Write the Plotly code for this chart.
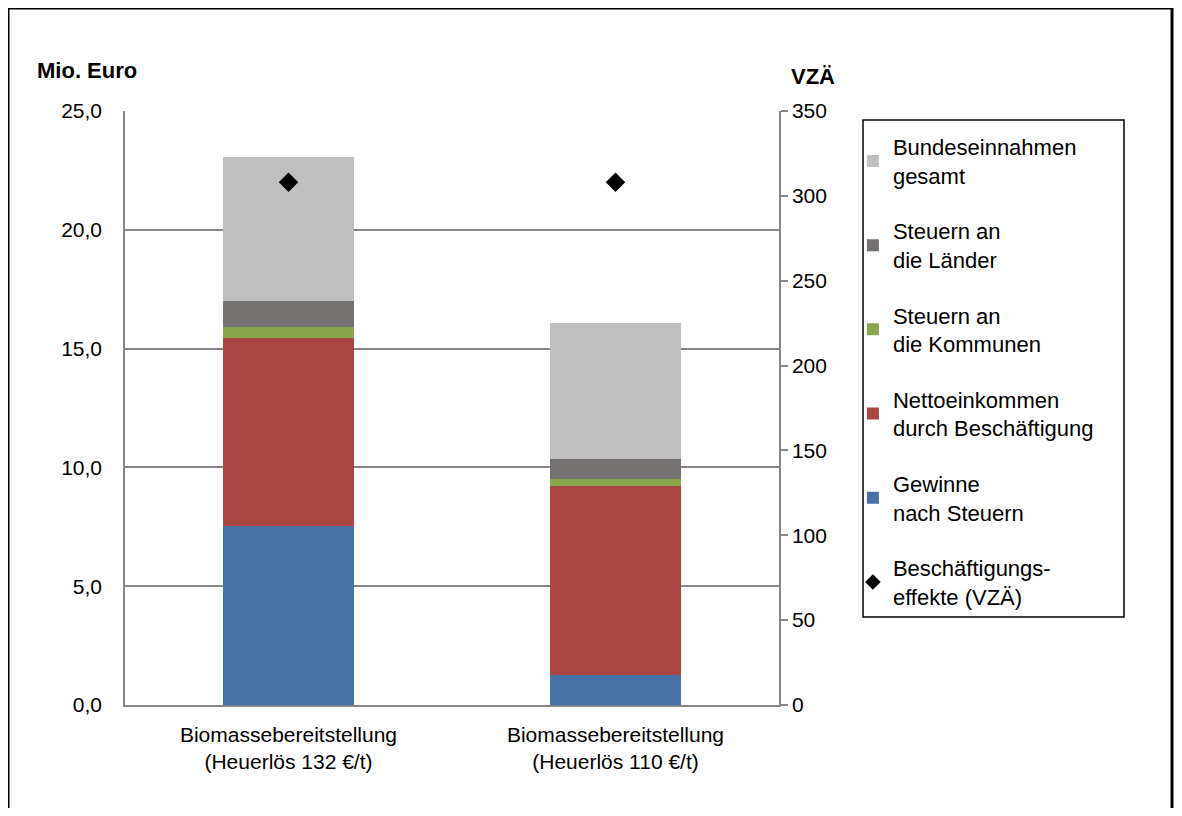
import plotly.graph_objects as go

# categories and values (Mio. Euro, stacked) + employment effects (VZÄ)
kategorien = ["Biomassebereitstellung<br>(Heuerlös 132 €/t)",
              "Biomassebereitstellung<br>(Heuerlös 110 €/t)"]
gewinne = [7.53, 1.26]
nettoeinkommen = [7.93, 7.96]
steuern_kommunen = [0.45, 0.29]
steuern_laender = [1.09, 0.83]
bundeseinnahmen = [6.05, 5.74]
vzae = [308, 308]

links_ticks = [0, 5, 10, 15, 20, 25]
rechts_ticks = [0, 50, 100, 150, 200, 250, 300, 350]

schrift = "Liberation Sans, Arial, sans-serif"
grau = "#878787"

fig = go.Figure()

stapel = [
    ("Gewinne<br>nach Steuern", gewinne, "#4672A8", 5),
    ("Nettoeinkommen<br>durch Beschäftigung", nettoeinkommen, "#AA4644", 4),
    ("Steuern an<br>die Kommunen", steuern_kommunen, "#89A54E", 3),
    ("Steuern an<br>die Länder", steuern_laender, "#767171", 2),
    ("Bundeseinnahmen<br>gesamt", bundeseinnahmen, "#BFBFBF", 1),
]
for name, werte, farbe, rang in stapel:
    fig.add_trace(go.Bar(
        x=kategorien, y=werte, name=name,
        marker=dict(color=farbe, line=dict(width=0)),
        width=0.4, legendrank=rang, legendgroup=name,
    ))

fig.add_trace(go.Scatter(
    x=kategorien, y=vzae, yaxis="y2", mode="markers",
    name="Beschäftigungs-<br>effekte (VZÄ)",
    marker=dict(symbol="diamond", size=15, color="black"),
    legendrank=6, legendgroup="vzae",
))

# page body has an 8px margin, so the figure is 16px smaller than the window
fig.update_layout(
    barmode="stack",
    width=1166, height=800,
    margin=dict(l=117, r=395, t=103, b=103),
    paper_bgcolor="white", plot_bgcolor="white",
    separators=",.",
    font=dict(family=schrift, size=21, color="black"),
    showlegend=True,
    legend=dict(
        x=1.113, y=0.975, xanchor="left", yanchor="top",
        font=dict(size=22), bgcolor="rgba(0,0,0,0)", borderwidth=0,
        tracegroupgap=24, itemsizing="constant",
    ),
    xaxis=dict(
        showline=True, linecolor=grau, linewidth=1.5,
        ticks="outside", ticklen=10, tickcolor="rgba(0,0,0,0)",
        tickfont=dict(size=21), showgrid=False,
    ),
    yaxis=dict(
        range=[0, 25], tickvals=links_ticks, tickformat=".1f",
        showgrid=True, gridcolor=grau, gridwidth=1.5,
        showline=True, linecolor=grau, linewidth=1.5,
        ticks="outside", ticklen=17, tickcolor="rgba(0,0,0,0)",
        zeroline=False,
    ),
    yaxis2=dict(
        range=[0, 350], tickvals=rechts_ticks, overlaying="y", side="right",
        showgrid=False, showline=True, linecolor=grau, linewidth=1.5,
        ticks="outside", ticklen=7, tickcolor=grau, tickwidth=1.5,
        zeroline=False,
    ),
)

# axis titles as in the original (top left / top right)
fig.add_annotation(text="<b>Mio. Euro</b>", xref="paper", yref="paper",
                   x=(35 - 125) / 654, y=(705 - 70) / 594,
                   xanchor="left", yanchor="middle", showarrow=False,
                   font=dict(size=22))
fig.add_annotation(text="<b>VZÄ</b>", xref="paper", yref="paper",
                   x=(789 - 125) / 654, y=(705 - 77) / 594,
                   xanchor="left", yanchor="middle", showarrow=False,
                   font=dict(size=22))

# legend box and outer frame
fig.add_shape(type="rect", xref="paper", yref="paper",
              x0=(863 - 125) / 654, x1=(1124 - 125) / 654,
              y0=(705 - 617) / 594, y1=(705 - 120) / 594,
              line=dict(color="black", width=1.5))
fig.add_shape(type="rect", xref="paper", yref="paper",
              x0=(8 - 125) / 654, x1=(1172 - 125) / 654,
              y0=(705 - 840) / 594, y1=(705 - 8) / 594,
              line=dict(color="black", width=3))

fig.write_html("out.html")
